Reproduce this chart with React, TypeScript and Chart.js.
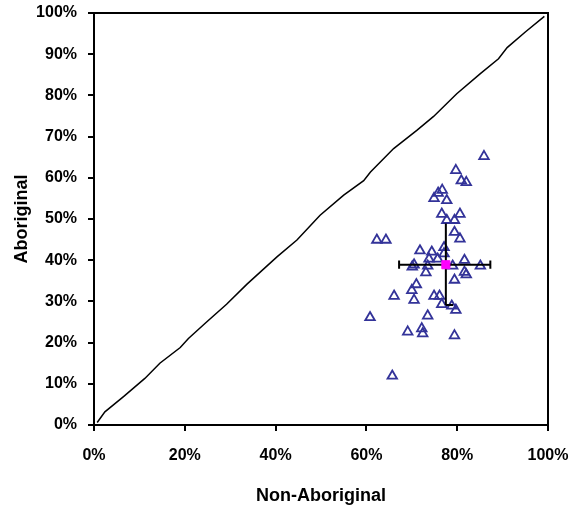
import React, { useEffect, useRef } from "react";
import { Chart, registerables } from "chart.js";

Chart.register(...registerables);

// Regional data: % Non-Aboriginal (x) vs % Aboriginal (y)
const nonAboriginal = [
  85.9, 79.7, 80.9, 82.0, 76.7, 75.8, 74.9, 77.7, 76.6, 80.6,
  77.7, 79.4, 79.4, 80.6, 62.3, 64.3, 77.1, 71.8, 74.4, 77.1,
  73.8, 75.7, 81.6, 70.5, 70.1, 73.5, 79.0, 85.1, 73.1, 81.6,
  82.0, 79.4, 71.0, 70.0, 66.1, 74.9, 76.1, 70.5, 76.6, 78.8,
  79.7, 73.5, 60.8, 72.2, 69.1, 72.4, 79.4, 65.7,
];
const aboriginal = [
  65.2, 61.8, 59.3, 58.9, 57.0, 56.3, 55.0, 54.5, 51.2, 51.2,
  49.7, 49.7, 46.8, 45.2, 44.9, 44.9, 43.1, 42.3, 42.0, 41.6,
  40.3, 40.3, 40.0, 38.9, 38.4, 38.6, 38.6, 38.6, 37.0, 37.1,
  36.5, 35.2, 34.1, 32.7, 31.3, 31.3, 31.3, 30.3, 29.3, 28.9,
  27.9, 26.5, 26.1, 23.4, 22.6, 22.2, 21.7, 11.9,
];

// Line of equality
const equalityX = [0.7, 2.4, 6.5, 11.2, 14.5, 19.0, 20.8, 24.8, 29.2, 33.7, 40.3, 44.7, 49.8, 55.0, 59.4, 60.9, 66.0, 71.1, 74.8, 79.9, 85.1, 89.1, 91.0, 95.0, 99.2];
const equalityY = [0.6, 3.2, 6.9, 11.3, 15.0, 18.8, 21.0, 25.0, 29.3, 34.2, 40.8, 44.9, 50.9, 55.8, 59.3, 61.4, 67.1, 71.5, 74.9, 80.4, 85.3, 88.9, 91.6, 95.4, 99.2];

// Mean and error bars
const meanX = 77.5;
const meanY = 38.9;
const errXLow = 67.2;
const errXHigh = 87.3;
const errYLow = 29.1;
const errYHigh = 48.9;
const capHalfY = 1.0;
const capHalfX = 0.8;

const xTicks = [0, 20, 40, 60, 80, 100];
const yTicks = [0, 10, 20, 30, 40, 50, 60, 70, 80, 90, 100];

const FONT = "'Liberation Sans', Arial, sans-serif";

export default function App() {
  const ref = useRef<HTMLCanvasElement | null>(null);

  useEffect(() => {
    if (!ref.current) return;
    const points = nonAboriginal.map((x, i) => ({ x, y: aboriginal[i] }));
    const equality = equalityX.map((x, i) => ({ x, y: equalityY[i] }));
    const errorBars: any[] = [
      { x: errXLow, y: meanY }, { x: errXHigh, y: meanY }, { x: errXHigh, y: null },
      { x: errXLow, y: meanY - capHalfY }, { x: errXLow, y: meanY + capHalfY }, { x: errXLow, y: null },
      { x: errXHigh, y: meanY - capHalfY }, { x: errXHigh, y: meanY + capHalfY }, { x: errXHigh, y: null },
      { x: meanX, y: errYLow }, { x: meanX, y: errYHigh }, { x: meanX, y: null },
      { x: meanX, y: errYLow }, { x: meanX + capHalfX * 2, y: errYLow },
    ];

    const frame = {
      id: "frame",
      afterDatasetsDraw(chart: any) {
        const { ctx, chartArea } = chart;
        ctx.save();
        ctx.strokeStyle = "#000";
        ctx.lineWidth = 2;
        ctx.strokeRect(chartArea.left, chartArea.top, chartArea.right - chartArea.left, chartArea.bottom - chartArea.top);
        ctx.restore();
      },
    };

    const chart = new Chart(ref.current, {
      type: "scatter",
      data: {
        datasets: [
          {
            label: "Equality",
            data: equality,
            showLine: true,
            borderColor: "#000",
            borderWidth: 1.5,
            pointRadius: 0,
            order: 4,
          } as any,
          {
            label: "Regions",
            data: points,
            pointStyle: "triangle",
            pointRadius: 5.5,
            borderColor: "#333399",
            backgroundColor: "rgba(0,0,0,0)",
            pointBorderWidth: 1.8,
            order: 3,
          } as any,
          {
            label: "Error",
            data: errorBars,
            showLine: true,
            spanGaps: false,
            borderColor: "#000",
            borderWidth: 2,
            pointRadius: 0,
            order: 2,
          } as any,
          {
            label: "Mean",
            data: [{ x: meanX, y: meanY }],
            pointStyle: "rect",
            pointRadius: 5.7,
            backgroundColor: "#FF00FF",
            borderColor: "#FF00FF",
            order: 1,
          } as any,
        ],
      },
      options: {
        responsive: false,
        animation: false,
        layout: { padding: { left: 0, right: 24, top: 13, bottom: 0 } },
        plugins: { legend: { display: false }, tooltip: { enabled: false } },
        scales: {
          x: {
            type: "linear",
            min: 0,
            max: 100,
            afterBuildTicks: (s: any) => { s.ticks = xTicks.map((v) => ({ value: v })); },
            afterFit: (s: any) => { s.height = 82; s.paddingLeft = 0; s.paddingRight = 0; },
            ticks: {
              autoSkip: false,
              maxRotation: 0,
              padding: 15,
              color: "#000",
              font: { family: FONT, size: 16, weight: "bold" },
              callback: (v: any) => v + "%",
            },
            grid: { drawOnChartArea: false, drawTicks: true, tickLength: 6, color: "#000", lineWidth: 2 },
            border: { display: true, color: "#000", width: 2 },
            title: {
              display: true,
              text: "Non-Aboriginal",
              color: "#000",
              font: { family: FONT, size: 18, weight: "bold" },
              padding: { top: 0, bottom: 0 },
            },
          },
          y: {
            type: "linear",
            min: 0,
            max: 100,
            afterBuildTicks: (s: any) => { s.ticks = yTicks.map((v) => ({ value: v })); },
            afterFit: (s: any) => { s.width = 94; s.paddingTop = 0; s.paddingBottom = 0; },
            ticks: {
              autoSkip: false,
              padding: 11,
              color: "#000",
              font: { family: FONT, size: 16, weight: "bold" },
              callback: (v: any) => v + "%",
            },
            grid: { drawOnChartArea: false, drawTicks: true, tickLength: 6, color: "#000", lineWidth: 2 },
            border: { display: true, color: "#000", width: 2 },
            title: {
              display: true,
              text: "Aboriginal",
              color: "#000",
              font: { family: FONT, size: 18, weight: "bold" },
              padding: { top: 11, bottom: 0 },
            },
          },
        },
      } as any,
      plugins: [frame],
    });
    return () => chart.destroy();
  }, []);

  return (
    <div style={{ position: "fixed", left: 0, top: 0, width: 572, height: 507, background: "#fff" }}>
      <canvas ref={ref} width={572} height={507} style={{ width: 572, height: 507 }} />
    </div>
  );
}
